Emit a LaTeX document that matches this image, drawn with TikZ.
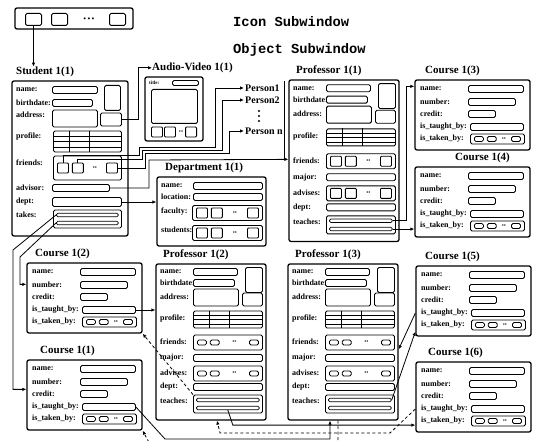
\documentclass[tikz,border=0pt]{standalone}
\usepackage{fontspec}
\setmainfont{Liberation Serif}
\setmonofont{Liberation Mono}
\usetikzlibrary{arrows.meta,calc}

\newcommand{\lblfont}{\fontsize{8}{8}\selectfont\bfseries}
\newcommand{\ttlfont}{\fontsize{11}{11}\selectfont\bfseries}
\newcommand{\persfont}{\fontsize{10}{10}\selectfont\bfseries}
\newcommand{\winfont}{\fontsize{13.8}{13.8}\selectfont\ttfamily\bfseries}

% three slots and dots inside a container
\newcommand{\mkslots}[2]{%
  \node[#2, anchor=west] (#1-a) at ([xshift=4pt]#1.west) {};
  \node[#2, anchor=west] (#1-b) at ([xshift=3pt]#1-a.east) {};
  \node[#2, anchor=east] (#1-n) at ([xshift=-4pt]#1.east) {};
  \node[ellip] (#1-d) at ($(#1-b.east)!0.5!(#1-n.west)$) {\textbullet\textbullet};
}

% two bars inside a list container
\newcommand{\mkbars}[2]{%
  \node[lbar, minimum width=#2, anchor=west] (#1-1) at ([xshift=3pt,yshift=4pt]#1.west) {};
  \node[lbar, minimum width=#2, anchor=west] (#1-2) at ([xshift=3pt,yshift=-4pt]#1.west) {};
}

% grid of a profile field
\newcommand{\mktable}[1]{%
  \draw[line width=0.5pt]
    ($(#1.north west)!0.25!(#1.south west)$) -- ($(#1.north east)!0.25!(#1.south east)$)
    ($(#1.north west)!0.5!(#1.south west)$) -- ($(#1.north east)!0.5!(#1.south east)$)
    ($(#1.north west)!0.75!(#1.south west)$) -- ($(#1.north east)!0.75!(#1.south east)$)
    ($(#1.north west)!0.23!(#1.north east)$) -- ($(#1.south west)!0.23!(#1.south east)$)
    ($(#1.north west)!0.52!(#1.north east)$) -- ($(#1.south west)!0.52!(#1.south east)$);
}

% course object
\newcommand{\mkcourse}[4]{%
  \begin{scope}[shift={#2}]
    \node[objbox, minimum width=115pt, minimum height=70pt] (#1) at (57.5,35) {};
    \node[ttl] (#1-t) at (#4,-4) {#3};
    \node[lbl] (#1-l1) at (5,9) {name:};
    \node[fld, minimum width=55pt] (#1-name) at (53,9) {};
    \node[lbl] (#1-l2) at (5,22) {number:};
    \node[fld, minimum width=47pt] (#1-num) at (53,22) {};
    \node[lbl] (#1-l3) at (5,34) {credit:};
    \node[fld, minimum width=27pt] (#1-cr) at (53,34) {};
    \node[fld, minimum width=53pt] (#1-tb) at (55,47) {};
    \node[lbl] (#1-l4) at (5,47) {is\_taught\_by:};
    \node[fld, minimum width=54pt, minimum height=10pt] (#1-tk) at (55,59) {};
    \node[lbl] (#1-l5) at (5,59) {is\_taken\_by:};
    \mkslots{#1-tk}{pill}
  \end{scope}}

% professor object
\newcommand{\mkprof}[5]{%
  \begin{scope}[shift={#2}, yscale=#5]
    \node[objbox, minimum width=110pt, minimum height=#5*156pt] (#1) at (55,78) {};
    \node[ttl] (#1-t) at (7,-4) {#3};
    \node[lbl] (#1-l1) at (4,8) {name:};
    \node[fld, minimum width=44pt] (#1-name) at (37,8) {};
    \node[fld, anchor=north west, minimum width=17pt, minimum height=25pt] (#1-pic) at (89,3) {};
    \node[lbl] (#1-l2) at (4,19) {birthdate:};
    \node[fld, minimum width=41pt] (#1-bd) at (37,19) {};
    \node[lbl] (#1-l3) at (4,33) {address:};
    \node[fld, minimum width=45pt, minimum height=17pt] (#1-addr) at (37,33.5) {};
    \node[fld, minimum width=20pt, minimum height=13pt] (#1-av) at (86,35.5) {};
    \node[lbl] (#1-l4) at (4,55) {profile:};
    \node[fld, minimum width=69pt, minimum height=17pt] (#1-prof) at (37,55.5) {};
    \mktable{#1-prof}
    \node[lbl] (#1-l5) at (4,78) {friends:};
    \node[fld, minimum width=69pt, minimum height=15pt] (#1-fr) at (37,78.5) {};
    \mkslots{#1-fr}{#4}
    \node[lbl] (#1-l6) at (4,94) {major:};
    \node[fld, minimum width=69pt] (#1-maj) at (37,94) {};
    \node[lbl] (#1-l7) at (4,109) {advises:};
    \node[fld, minimum width=69pt, minimum height=15pt] (#1-adv) at (37,109.5) {};
    \mkslots{#1-adv}{#4}
    \node[lbl] (#1-l8) at (4,123) {dept:};
    \node[fld, minimum width=69pt] (#1-dept) at (37,123) {};
    \node[lbl] (#1-l9) at (4,137) {teaches:};
    \node[fld, minimum width=69pt, minimum height=18pt] (#1-tch) at (37,140) {};
    \mkbars{#1-tch}{63pt}
  \end{scope}}

\begin{document}
\begin{tikzpicture}[
  x=1pt, y=-1pt,
  objbox/.style={draw, line width=1.3pt, rounded corners=2pt, inner sep=0pt},
  fld/.style={draw, line width=0.9pt, rounded corners=1.5pt, inner sep=0pt,
    minimum height=7pt, anchor=west},
  sq/.style={draw, line width=0.9pt, rounded corners=1pt, inner sep=0pt,
    minimum width=11pt, minimum height=10pt},
  pill/.style={draw, line width=0.8pt, rounded corners=1.5pt, inner sep=0pt,
    minimum width=9pt, minimum height=5pt},
  isq/.style={draw, line width=1pt, rounded corners=1.5pt, inner sep=0pt,
    minimum width=16pt, minimum height=12pt},
  lbar/.style={draw, line width=0.7pt, rounded corners=1.5pt, inner sep=0pt,
    minimum height=3.5pt},
  ellip/.style={inner sep=0pt, font=\fontsize{6}{6}\selectfont},
  pdot/.style={circle, fill, inner sep=0pt, minimum size=2.4pt},
  lbl/.style={font=\lblfont, anchor=west, inner sep=0pt},
  ttl/.style={font=\ttlfont, anchor=south west, inner sep=0pt},
  pers/.style={font=\persfont, anchor=west, inner sep=1pt},
  win/.style={font=\winfont, anchor=west, inner sep=0pt},
  link/.style={line width=0.8pt, -{Latex[length=4pt,width=3.5pt]}},
  dlink/.style={link, dash pattern=on 3pt off 2.5pt},
  wire/.style={line width=0.8pt}
]
\useasboundingbox (0,0) rectangle (536,441);
\fill[white] (0,0) rectangle (536,441);

% Icon subwindow
\node[objbox, minimum width=118pt, minimum height=21pt] (ic) at (74,18.5) {};
\node[isq] (ic-a) at (33.5,19.5) {};
\node[isq] (ic-b) at (59.5,19.5) {};
\node[ellip, font=\fontsize{8}{8}\selectfont] (ic-d) at (89,19.5) {\textbullet\,\textbullet\,\textbullet};
\node[isq] (ic-n) at (117.5,19.5) {};
\node[win] (ic-lbl) at (233,22) {Icon Subwindow};
\node[win] (ob-lbl) at (233,50) {Object Subwindow};

% Student
\begin{scope}[shift={(12,81)}]
  \node[objbox, minimum width=116pt, minimum height=155pt] (stu) at (58,77.5) {};
  \node[ttl] (stu-t) at (4,-4) {Student 1(1)};
  \node[lbl] (stu-l1) at (4,9) {name:};
  \node[fld, minimum width=45pt] (stu-name) at (40,9) {};
  \node[fld, anchor=north west, minimum width=16pt, minimum height=25pt] (stu-pic) at (92,4) {};
  \node[lbl] (stu-l2) at (4,22) {birthdate:};
  \node[fld, minimum width=40pt] (stu-bd) at (40,22) {};
  \node[lbl] (stu-l3) at (4,34) {address:};
  \node[fld, minimum width=45pt, minimum height=17pt] (stu-addr) at (40,37.5) {};
  \node[fld, minimum width=21pt, minimum height=13pt] (stu-av) at (88,38.5) {};
  \node[lbl] (stu-l4) at (4,56) {profile:};
  \node[fld, minimum width=68pt, minimum height=21pt] (stu-prof) at (41,60.5) {};
  \mktable{stu-prof}
  \node[lbl] (stu-l5) at (4,82) {friends:};
  \node[fld, minimum width=68pt, minimum height=24pt] (stu-fr) at (41,87) {};
  \mkslots{stu-fr}{sq}
  \node[lbl] (stu-l6) at (4,107) {advisor:};
  \node[fld, minimum width=57pt] (stu-adv) at (40,107) {};
  \node[lbl] (stu-l7) at (4,121) {dept:};
  \node[fld, minimum width=69pt, minimum height=9pt] (stu-dept) at (40,121) {};
  \node[lbl] (stu-l8) at (4,134) {takes:};
  \node[fld, minimum width=68pt, minimum height=18pt] (stu-tk) at (41,138) {};
  \mkbars{stu-tk}{62pt}
\end{scope}

% Audio-Video
\begin{scope}[shift={(145,77)}]
  \node[objbox, minimum width=58pt, minimum height=64pt] (av) at (29,32) {};
  \node[ttl] (av-t) at (7,-4) {Audio-Video 1(1)};
  \node[lbl, font=\fontsize{5}{5}\selectfont\bfseries] (av-l1) at (4,6) {title:};
  \node[fld, minimum width=26pt, minimum height=5pt] (av-title) at (27,6) {};
  \node[fld, anchor=north west, minimum width=46pt, minimum height=34pt] (av-scr) at (6,12) {};
  \node[sq, anchor=west] (av-a) at (6,55) {};
  \node[sq, anchor=west] (av-b) at (19,55) {};
  \node[sq, anchor=east] (av-n) at (52,55) {};
  \node[ellip] (av-d) at (36,55) {\textbullet\textbullet};
\end{scope}

% Persons
\node[pers] (pers1) at (244,88) {Person1};
\node[pers] (pers2) at (244,100) {Person2};
\node[pdot] (pd1) at (259,111) {};
\node[pdot] (pd2) at (259,116) {};
\node[pdot] (pd3) at (259,121) {};
\node[pers] (persn) at (244,131) {Person n};

% Department
\begin{scope}[shift={(157,177)}]
  \node[objbox, minimum width=109pt, minimum height=69pt] (dep) at (54.5,34.5) {};
  \node[ttl] (dep-t) at (8,-4) {Department 1(1)};
  \node[lbl] (dep-l1) at (4,9) {name:};
  \node[fld, minimum width=69pt] (dep-name) at (36,9) {};
  \node[lbl] (dep-l2) at (4,20) {location:};
  \node[fld, minimum width=69pt] (dep-loc) at (36,20) {};
  \node[lbl] (dep-l3) at (4,35) {faculty:};
  \node[fld, minimum width=70pt, minimum height=15pt] (dep-fac) at (35,36) {};
  \mkslots{dep-fac}{sq}
  \node[lbl] (dep-l4) at (4,53) {students:};
  \node[fld, minimum width=70pt, minimum height=15pt] (dep-stu) at (35,56) {};
  \mkslots{dep-stu}{sq}
\end{scope}

% Professors
\mkprof{pf11}{(289,80)}{Professor 1(1)}{sq}{1.035}
\mkprof{pf12}{(156,264)}{Professor 1(2)}{pill}{1}
\mkprof{pf13}{(288,264)}{Professor 1(3)}{pill}{1}

% Courses
\mkcourse{c13}{(415,80)}{Course 1(3)}{10}
\mkcourse{c14}{(415,167)}{Course 1(4)}{40}
\mkcourse{c12}{(27,263)}{Course 1(2)}{8}
\mkcourse{c11}{(27,360)}{Course 1(1)}{13}
\mkcourse{c15}{(416,266)}{Course 1(5)}{9}
\mkcourse{c16}{(416,362)}{Course 1(6)}{12}

% Icon to student
\draw[link] (ic-a) -- (ic-a |- stu-t.north);

% Student links
\draw[link] (stu-av.east) -- ++(16,0) |- (av-t.west);
\draw[link] (stu-fr-a.north) |- (139,155) |- (215,147) |- (pers1.west);
\draw[link] (stu-fr-b.north) |- (142,159) |- (222,150) |- (pers2.west);
\draw[link] (stu-fr-n.east) -| (145,153) -- (229,153) |- (persn.west);
\draw[link] (stu-adv.east) -| (149,160) -- ($(pf11.north west)+(0,80)$);
\coordinate (advj) at (284,160);
\draw[wire] (advj) -- ([yshift=-2pt]advj |- pf11.north);
\draw[link] (stu-dept.east) -- (stu-dept.east -| dep.west);
\draw[link] (stu-tk-1.west) -- (13,250) |- ($(c11.north west)+(0,30)$);
\draw[link] (stu-tk-2.west) -- (20,257) |- ($(c12.north west)+(0,22)$);

% Professor 1(1) teaches
\draw[link] (pf11-tch-1.east) -- ++(14,0) |- ($(c13.north west)+(0,7)$);
\draw[link] (pf11-tch-2.east) -- (pf11-tch-2.east -| c14.west);

% Course and professor links below
\draw[link] (c12-tb.east) -- (c12-tb.east -| pf12.west);
\draw[dlink] (pf12-tch.north west) -- (c12.south east);
\draw[link] (c11-tb.east) -- (165,439) -| ($(pf13.south)+(-13,0)$);
\draw[dlink] ($(pf13.south)+(-5,0)$) |- (152,448) -- (c11.south east);
\draw[link] (pf12-tch-2.south) -- ++(5,15) coordinate (m1) -- (m1 -| c16.west);
\draw[dlink] (c16.west |- c16-tb) -- (390,433) -- (220,433) -- ($(pf12.south)+(6,0)$);
\draw[link] (c15.west |- c15-tb) -- ($(pf13.north east)+(0,86)$);
\draw[link] (pf13-tch-1.east) -- ($(c15.south west)+(0,-5)$);

\end{tikzpicture}
\end{document}
